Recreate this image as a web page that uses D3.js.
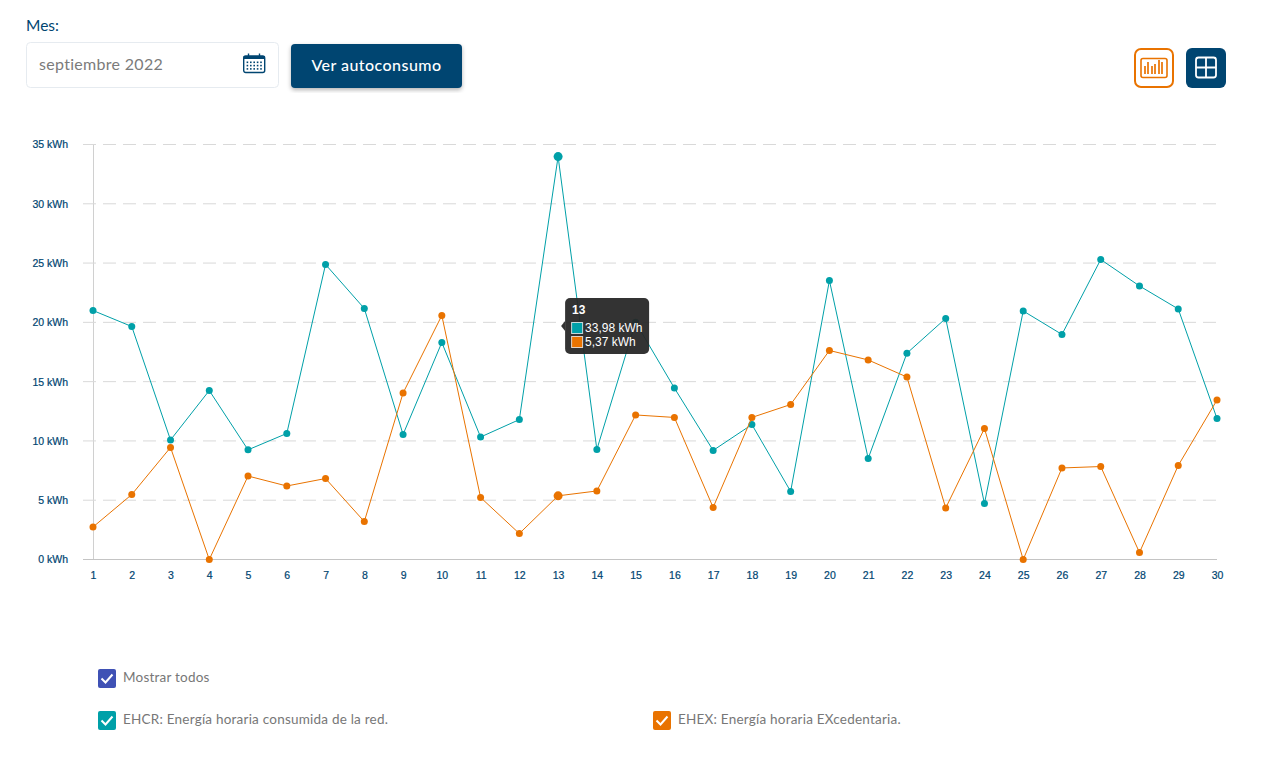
<!DOCTYPE html>
<html lang="es">
<head>
<meta charset="utf-8">
<title>Autoconsumo</title>
<script src="https://cdn.jsdelivr.net/npm/d3@7"></script>
<style>
  html, body { margin: 0; padding: 0; background: #fff; overflow: hidden; }
  svg { display: block; }
  .ui { font-family: "Lato", sans-serif; }
  .tick text { font-family: "Liberation Sans", Arial, sans-serif; font-size: 10.5px; fill: #004571; stroke: #004571; stroke-width: .2px; }
</style>
</head>
<body>
<div id="chart"></div>
<script>
const days = d3.range(1, 31);
const yTicks = [0, 5, 10, 15, 20, 25, 30, 35];

const ehcr = [21.0, 19.65, 10.08, 14.25, 9.25, 10.63, 24.88, 21.17, 10.55, 18.3,
  10.33, 11.8, 33.98, 9.28, 20.0, 14.46, 9.2, 11.38, 5.74, 23.53,
  8.52, 17.4, 20.33, 4.72, 20.96, 18.98, 25.3, 23.07, 21.13, 11.89];
const ehex = [2.74, 5.48, 9.45, 0, 7.04, 6.2, 6.83, 3.2, 14.04, 20.58,
  5.23, 2.19, 5.37, 5.78, 12.19, 11.98, 4.39, 11.98, 13.07, 17.63,
  16.83, 15.39, 4.34, 11.05, 0, 7.72, 7.84, 0.59, 7.93, 13.45];

const hoverDay = 13;
const teal = '#00a0a8';
const orange = '#e97300';
const navy = '#004571';

const width = 1284;
const height = 761;

let svg = d3.select('#chart').append('svg')
    .attr('width', width)
    .attr('height', height);

let x_scale = d3.scaleLinear().domain([1, 30]).range([93, 1217]);
let y_scale = d3.scaleLinear().domain([0, 35]).range([559.5, 144.5]);

// grid and axes
let yAxis = svg.append('g')
    .attr('transform', 'translate(93,0)')
    .call(d3.axisLeft(y_scale).tickValues(yTicks)
        .tickSize(0).tickPadding(25)
        .tickFormat(d => d + ' kWh'));
yAxis.select('.domain').attr('stroke', '#d0d0d0');
yAxis.selectAll('.tick line').remove();

svg.append('g').selectAll('line')
    .data(yTicks.filter(d => d > 0))
    .join('line')
    .attr('x1', 83)
    .attr('x2', 1217)
    .attr('y1', d => y_scale(d))
    .attr('y2', d => y_scale(d))
    .attr('stroke', '#d9d9d9')
    .attr('stroke-dasharray', '13,7');

let xAxis = svg.append('g')
    .attr('transform', 'translate(0,559)')
    .call(d3.axisBottom(x_scale).tickValues(days)
        .tickSize(0).tickPadding(13)
        .tickFormat(d3.format('d')));
xAxis.select('.domain').remove();

svg.append('line')
    .attr('x1', 83)
    .attr('x2', 1217)
    .attr('y1', y_scale(0))
    .attr('y2', y_scale(0))
    .attr('stroke', '#c4c4c4');

// series
function drawSeries(values, color) {
    let line = d3.line()
        .x((d, i) => x_scale(days[i]))
        .y(d => y_scale(d));

    svg.append('path')
        .datum(values)
        .attr('fill', 'none')
        .attr('stroke', color)
        .attr('stroke-width', 1)
        .attr('d', line);

    svg.append('g').selectAll('circle')
        .data(values)
        .join('circle')
        .attr('cx', (d, i) => x_scale(days[i]))
        .attr('cy', d => y_scale(d))
        .attr('r', (d, i) => days[i] === hoverDay ? 4.5 : 3.5)
        .attr('fill', color);
}
drawSeries(ehcr, teal);
drawSeries(ehex, orange);

// tooltip
const fmt = v => v.toFixed(2).replace('.', ',') + ' kWh';
const tipX = x_scale(hoverDay) + 7;
const tipY = 298;
let tip = svg.append('g').attr('transform', `translate(${tipX},${tipY})`);
const tipFill = 'rgba(38,38,38,0.94)';
tip.append('rect')
    .attr('width', 84).attr('height', 56).attr('rx', 5)
    .attr('fill', tipFill);
tip.append('path')
    .attr('d', 'M0,23 L-4,28 L0,33 Z')
    .attr('fill', tipFill);
tip.append('text')
    .attr('x', 7).attr('y', 16)
    .attr('fill', '#fff')
    .style('font', 'bold 12px "Liberation Sans", Arial, sans-serif')
    .text(hoverDay);
[[ehcr, teal], [ehex, orange]].forEach(([values, color], i) => {
    let rowY = 24 + i * 14;
    tip.append('rect')
        .attr('x', 6.5).attr('y', rowY + .5)
        .attr('width', 11).attr('height', 11)
        .attr('fill', color)
        .attr('stroke', '#fff')
        .attr('stroke-opacity', .75);
    tip.append('text')
        .attr('x', 20).attr('y', rowY + 10)
        .attr('fill', '#fff')
        .style('font', '12px "Liberation Sans", Arial, sans-serif')
        .text(fmt(values[hoverDay - 1]));
});

// month selector
svg.append('text').attr('class', 'ui')
    .attr('x', 26).attr('y', 31)
    .attr('fill', navy).style('font-size', '15.5px')
    .text('Mes:');
svg.append('rect')
    .attr('x', 26.5).attr('y', 42.5)
    .attr('width', 252).attr('height', 45).attr('rx', 4)
    .attr('fill', '#fff').attr('stroke', '#e6ebf0');
svg.append('text').attr('class', 'ui')
    .attr('x', 39).attr('y', 70)
    .attr('fill', '#7b7b7b').style('font-size', '16px').style('letter-spacing', '.3px')
    .text('septiembre 2022');

// calendar icon
let cal = svg.append('g').attr('transform', 'translate(243,53.5)');
cal.append('rect').attr('x', .7).attr('y', 2.5).attr('width', 21).attr('height', 16.5).attr('rx', 2)
    .attr('fill', '#fff').attr('stroke', navy).attr('stroke-width', 1.4);
cal.append('rect').attr('x', .7).attr('y', 2.5).attr('width', 21).attr('height', 3)
    .attr('fill', navy);
cal.selectAll('line').data([5.5, 16.5]).join('line')
    .attr('x1', d => d).attr('x2', d => d).attr('y1', 0).attr('y2', 4)
    .attr('stroke', navy).attr('stroke-width', 1.4);
d3.range(5).forEach(c => d3.range(3).forEach(r => {
    cal.append('rect')
        .attr('x', 3.6 + c * 3.4).attr('y', 8 + r * 3.3)
        .attr('width', 1.6).attr('height', 1.6)
        .attr('fill', navy);
}));

// button
svg.append('defs').append('filter')
    .attr('id', 'btnShadow')
    .append('feDropShadow')
    .attr('dx', 0).attr('dy', 2).attr('stdDeviation', 2)
    .attr('flood-color', '#000').attr('flood-opacity', .3);
svg.append('rect')
    .attr('x', 291).attr('y', 44)
    .attr('width', 171).attr('height', 44).attr('rx', 4)
    .attr('fill', navy).attr('filter', 'url(#btnShadow)');
svg.append('text').attr('class', 'ui')
    .attr('x', 376.5).attr('y', 71)
    .attr('text-anchor', 'middle').attr('fill', '#fff')
    .style('font-size', '16px').style('font-weight', 500).style('letter-spacing', '.45px')
    .text('Ver autoconsumo');

// view toggle icons
let chartIcon = svg.append('g').attr('transform', 'translate(1134,48)');
chartIcon.append('rect')
    .attr('x', 1).attr('y', 1).attr('width', 38).attr('height', 38).attr('rx', 6)
    .attr('fill', '#fff').attr('stroke', orange).attr('stroke-width', 2);
chartIcon.append('rect')
    .attr('x', 7).attr('y', 10.5).attr('width', 26).attr('height', 19).attr('rx', 2)
    .attr('fill', 'none').attr('stroke', orange).attr('stroke-width', 1.6);
const iconBars = [[11, 6], [14, 10], [18, 6], [21, 8], [25, 12], [28, 10]];
chartIcon.selectAll('.bar').data(iconBars).join('line')
    .attr('x1', d => d[0]).attr('x2', d => d[0])
    .attr('y1', d => 16 + (10 - d[1]) - 2).attr('y2', 26)
    .attr('stroke', orange).attr('stroke-width', 1.7);

let gridIcon = svg.append('g').attr('transform', 'translate(1186,48)');
gridIcon.append('rect')
    .attr('width', 40).attr('height', 40).attr('rx', 6)
    .attr('fill', navy);
gridIcon.append('rect')
    .attr('x', 10).attr('y', 9.5).attr('width', 20).attr('height', 20).attr('rx', 2.5)
    .attr('fill', 'none').attr('stroke', '#fff').attr('stroke-width', 1.8);
gridIcon.append('path')
    .attr('d', 'M20,9.5 V29.5 M10,19.5 H30')
    .attr('stroke', '#fff').attr('stroke-width', 1.8);

// legend
const legendItems = [
    { label: 'Mostrar todos', color: '#3f51b5', x: 98, y: 669 },
    { label: 'EHCR: Energía horaria consumida de la red.', color: teal, x: 98, y: 711 },
    { label: 'EHEX: Energía horaria EXcedentaria.', color: orange, x: 653, y: 711 }
];
legendItems.forEach(item => {
    let g = svg.append('g').attr('transform', `translate(${item.x},${item.y})`);
    g.append('rect')
        .attr('width', 18).attr('height', 19).attr('rx', 2)
        .attr('fill', item.color);
    g.append('path')
        .attr('d', 'M3.5,9.5 L7.5,13.5 L14.5,5.5')
        .attr('fill', 'none').attr('stroke', '#fff').attr('stroke-width', 2);
    g.append('text').attr('class', 'ui')
        .attr('x', 25).attr('y', 13)
        .attr('fill', '#777').style('font-size', '13.5px').style('letter-spacing', '.22px')
        .text(item.label);
});
</script>
</body>
</html>
